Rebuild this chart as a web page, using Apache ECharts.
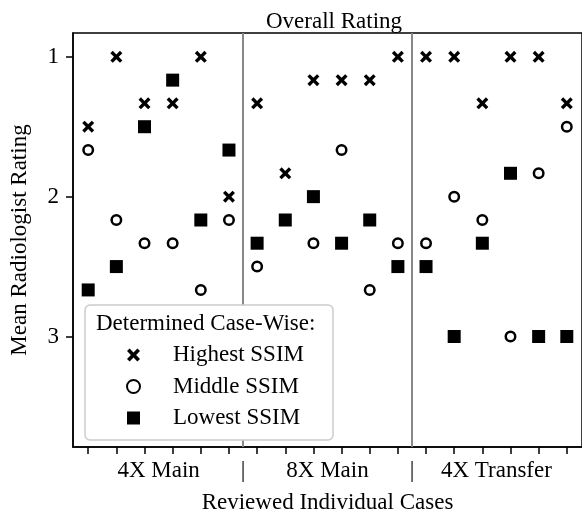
<!DOCTYPE html>
<html>
<head>
<meta charset="utf-8">
<script src="https://cdn.jsdelivr.net/npm/echarts@6/dist/echarts.min.js"></script>
<style>html,body{margin:0;padding:0;background:#fff}#c{width:582px;height:519px}</style>
</head>
<body>
<div id="c"></div>
<script>
// ---- data ----
const caseIndex = [0,1,2,3,4,5,6,7,8,9,10,11,12,13,14,15,16,17];
const highest = [1.5,1.0,1.333,1.333,1.0,2.0, 1.333,1.833,1.167,1.167,1.167,1.0, 1.0,1.0,1.333,1.0,1.0,1.333];
const middle  = [1.667,2.167,2.333,2.333,2.667,2.167, 2.5,3.0,2.333,1.667,2.667,2.333, 2.333,2.0,2.167,3.0,1.833,1.5];
const lowest  = [2.667,2.5,1.5,1.167,2.167,1.667, 2.333,2.167,2.0,2.333,2.167,2.5, 2.5,3.0,2.333,1.833,3.0,3.0];
const groupLabels = ['4X Main','|','8X Main','|','4X Transfer'];
const groupLabelPos = [2.5,5.5,8.5,11.5,14.5];
const separators = [5.5,11.5];
const yTicks = [1,2,3];
const seriesNames = ['Highest SSIM','Middle SSIM','Lowest SSIM'];

const FONT = 'Liberation Serif';
const crossPath = 'path://M0,2L2,0L5,3L8,0L10,2L7,5L10,8L8,10L5,7L2,10L0,8L3,5Z';

const pairs = arr => arr.map((v,i)=>[caseIndex[i], v]);

const chart = echarts.init(document.getElementById('c'), null, {renderer:'canvas'});
chart.setOption({
  animation:false,
  backgroundColor:'#fff',
  title:{text:'Overall Rating', left:329, top:5, textAlign:'center',
    textStyle:{fontFamily:FONT, fontSize:23, fontWeight:'normal', color:'#000'}},
  grid:{left:73, top:33, width:514, height:417, show:true, borderColor:'#000', borderWidth:1.5, backgroundColor:'transparent'},
  xAxis:{type:'value', min:-0.54, max:17.54,
    name:'Reviewed Individual Cases', nameLocation:'middle', nameGap:44,
    nameTextStyle:{fontFamily:FONT, fontSize:23, color:'#000'},
    axisLine:{show:true, onZero:false, lineStyle:{color:'#000', width:1.5}},
    axisTick:{show:true, inside:false, length:7, lineStyle:{color:'#000', width:1.5}, customValues:caseIndex},
    axisLabel:{show:true, margin:12, fontFamily:FONT, fontSize:23, color:'#000', customValues:groupLabelPos,
      formatter:(v)=>{const k=groupLabelPos.indexOf(v); return k>=0?groupLabels[k]:'';}},
    splitLine:{show:false}},
  yAxis:{type:'value', inverse:true, min:0.83, max:3.79,
    name:'Mean Radiologist Rating', nameLocation:'middle', nameGap:42, nameRotate:90,
    nameTextStyle:{fontFamily:FONT, fontSize:23, color:'#000'},
    axisLine:{show:true, onZero:false, lineStyle:{color:'#000', width:1.5}},
    axisTick:{show:true, length:7, lineStyle:{color:'#000', width:1.5}, customValues:yTicks},
    axisLabel:{show:true, margin:14, fontFamily:FONT, fontSize:23, color:'#000', customValues:yTicks},
    splitLine:{show:false}},
  legend:{show:true, orient:'vertical', left:126, top:343, z:200,
    itemWidth:13, itemHeight:13, itemGap:7.5, padding:0,
    textStyle:{fontFamily:FONT, fontSize:23, color:'#000', lineHeight:24, padding:[0,0,0,28]},
    data:seriesNames, selectedMode:false},
  graphic:[
    {type:'rect', z:100, shape:{x:85, y:305, width:248, height:135, r:5},
      style:{fill:'#fff', stroke:'#cccccc', lineWidth:1.5}},
    {type:'text', z:101, x:96, y:324, style:{text:'Determined Case-Wise:', font:'23px "Liberation Serif"', fill:'#000', textVerticalAlign:'middle'}}
  ],
  series:[
    {type:'scatter', name:'_sep', data:[], silent:true,
      markLine:{silent:true, symbol:'none', label:{show:false}, lineStyle:{color:'#888', width:2, type:'solid', opacity:1},
        data:separators.map(v=>({xAxis:v}))}},
    {type:'scatter', name:seriesNames[0], data:pairs(highest), symbol:crossPath, symbolSize:12,
      itemStyle:{color:'#000', opacity:1}},
    {type:'scatter', name:seriesNames[1], data:pairs(middle), symbol:'circle', symbolSize:9.5,
      itemStyle:{color:'#fff', borderColor:'#000', borderWidth:2.5, opacity:1}},
    {type:'scatter', name:seriesNames[2], data:pairs(lowest), symbol:'rect', symbolSize:13,
      itemStyle:{color:'#000', opacity:1}}
  ]
});
</script>
</body>
</html>
